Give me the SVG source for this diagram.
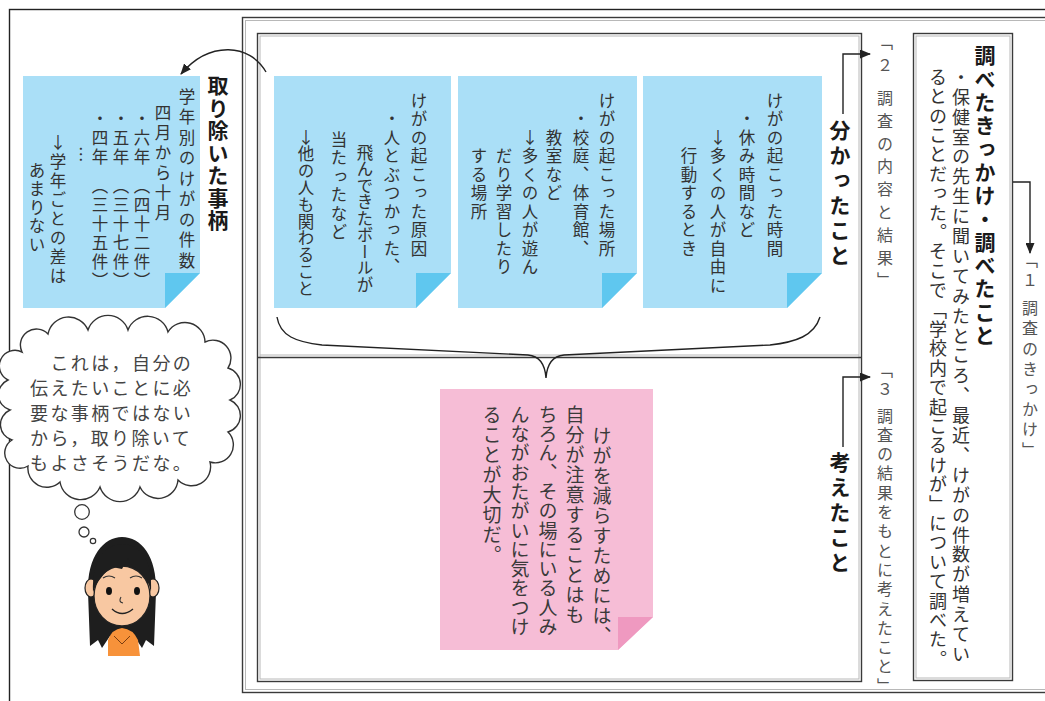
<svg xmlns="http://www.w3.org/2000/svg" width="1045" height="701" viewBox="0 0 1045 701">
  <style>
    .v { writing-mode: vertical-rl; font-family: "Noto Sans CJK JP", "Noto Sans CJK SC", sans-serif; }
    .h { font-family: "Noto Sans CJK JP", "Noto Sans CJK SC", sans-serif; }
    .up { text-orientation: upright; }
    .frame { fill: none; stroke: #3a3a3a; stroke-width: 1.4; }
    .frame2 { fill: none; stroke: #b8b8b8; stroke-width: 1; }
    .line { fill: none; stroke: #222; stroke-width: 1.4; }
    .blue { fill: #aadff7; }
    .bluefold { fill: #5fc7ef; }
    .pink { fill: #f6bdd6; }
    .pinkfold { fill: #ef99c0; }
    .nt { font-size: 16.5px; letter-spacing: 2px; fill: #333; }
    .pt { font-size: 19px; letter-spacing: 1px; fill: #3a3a3a; }
    .head { font-size: 21px; font-weight: bold; fill: #1a1a1a; }
    .lab { font-size: 16px; fill: #555; }
    .body { font-size: 18px; letter-spacing: 1.4px; fill: #333; }
    .say { font-size: 18px; letter-spacing: 2.4px; fill: #444; }
  </style>
  <defs>
    <marker id="arrow" markerUnits="userSpaceOnUse" markerWidth="11" markerHeight="9" refX="10" refY="4.5" orient="auto">
      <path d="M0,0 L11,4.5 L0,9 Z" fill="#222"/>
    </marker>
  </defs>

  <rect width="1045" height="701" fill="#fff"/>

  <!-- page frames -->
  <g id="frames">
    <rect class="line" x="9.5" y="9.5" width="1100" height="800"/>
    <rect class="frame" x="242.5" y="17.5" width="900" height="675"/>
    <rect class="frame2" x="245.5" y="20.5" width="900" height="669"/>
    <rect class="frame" x="257.5" y="33.5" width="604" height="648"/>
    <rect class="frame2" x="260" y="36" width="599" height="643"/>
    <line class="frame" x1="257.5" y1="357.5" x2="861.5" y2="357.5"/>
    <line class="frame2" x1="260" y1="355" x2="859" y2="355"/>
  </g>

  <!-- 1: trigger and findings box -->
  <g id="box-kikkake">
    <rect class="frame" x="913.5" y="33.5" width="99" height="647"/>
    <rect class="frame2" x="916" y="36" width="94" height="642"/>
    <text class="v head" x="985" y="45" style="letter-spacing:2.3px">調べたきっかけ・調べたこと</text>
    <text class="v body" x="961" y="68" style="letter-spacing:1.9px">・保健室の先生に聞いてみたところ、最近、けがの件数が増えてい</text>
    <text class="v body" x="938" y="68">るとのことだった。そこで「学校内で起こるけが」について調べた。</text>
  </g>
  <g id="label-1">
    <text class="v lab" x="1030" y="252" style="letter-spacing:4.2px">「１ 調査のきっかけ」</text>
  </g>
  <g id="label-2">
    <text class="v lab" x="885" y="34" style="letter-spacing:6.8px">「２ 調査の内容と結果」</text>
  </g>
  <g id="label-3">
    <text class="v lab" x="885" y="362" style="letter-spacing:3.3px">「３ 調査の結果をもとに考えたこと」</text>
  </g>
  <g id="title-wakatta">
    <text class="v head" x="840" y="120" style="letter-spacing:4px">分かったこと</text>
  </g>
  <g id="title-kangaeta">
    <text class="v head" x="840" y="452" style="letter-spacing:4px">考えたこと</text>
  </g>

  <!-- finding notes -->
  <g id="note-time">
    <polygon class="blue" points="643,76 822,76 822,273 787,308 643,308"/>
    <polygon class="bluefold" points="787,273 822,273 787,308"/>
    <text class="v nt" x="775" y="92">けがの起こった時間</text>
    <text class="v nt" x="747" y="110.5">・休み時間など</text>
    <text class="v nt" x="718" y="129"><tspan class="up">↓</tspan>多くの人が自由に</text>
    <text class="v nt" x="689" y="147.5">行動するとき</text>
  </g>
  <g id="note-place">
    <polygon class="blue" points="458,76 637,76 637,273 602,308 458,308"/>
    <polygon class="bluefold" points="602,273 637,273 602,308"/>
    <text class="v nt" x="607" y="92">けがの起こった場所</text>
    <text class="v nt" x="581" y="110.5">・校庭、体育館、</text>
    <text class="v nt" x="554" y="129">教室など</text>
    <text class="v nt" x="530" y="129"><tspan class="up">↓</tspan>多くの人が遊ん</text>
    <text class="v nt" x="504" y="147.5">だり学習したり</text>
    <text class="v nt" x="479" y="147.5">する場所</text>
  </g>
  <g id="note-cause">
    <polygon class="blue" points="274,76 451,76 451,273 416,308 274,308"/>
    <polygon class="bluefold" points="416,273 451,273 416,308"/>
    <text class="v nt" x="419" y="92">けがの起こった原因</text>
    <text class="v nt" x="392" y="110.5">・人とぶつかった、</text>
    <text class="v nt" x="365" y="144" style="letter-spacing:0px">飛んできたボールが</text>
    <text class="v nt" x="339" y="131">当たったなど</text>
    <text class="v nt" x="306" y="129" style="letter-spacing:0.3px"><tspan class="up">↓</tspan>他の人も関わること</text>
  </g>

  <!-- removed item -->
  <g id="note-removed">
    <polygon class="blue" points="23,76 200,76 200,273 165,308 23,308"/>
    <polygon class="bluefold" points="165,273 200,273 165,308"/>
    <text class="v nt" x="187" y="88" style="letter-spacing:4px">学年別のけがの件数</text>
    <text class="v nt" x="163" y="104" style="letter-spacing:3.5px">四月から十月</text>
    <text class="v nt" x="142" y="110" style="letter-spacing:2.5px">・六年　（四十二件）</text>
    <text class="v nt" x="121" y="110" style="letter-spacing:2.5px">・五年　（三十七件）</text>
    <text class="v nt" x="100" y="110" style="letter-spacing:2.5px">・四年　（三十五件）</text>
    <text class="v nt" x="81" y="146">…</text>
    <text class="v nt" x="58" y="134" style="letter-spacing:2.5px"><tspan class="up">↓</tspan>学年ごとの差は</text>
    <text class="v nt" x="37" y="162">あまりない</text>
  </g>
  <g id="title-removed">
    <text class="v head" x="218" y="75" style="letter-spacing:1.5px">取り除いた事柄</text>
  </g>

  <!-- conclusion note -->
  <g id="note-think">
    <polygon class="pink" points="440,389 653,389 653,617 618,650 440,650"/>
    <polygon class="pinkfold" points="618,617 653,617 618,650"/>
    <text class="v pt" x="602" y="426">けがを減らすためには、</text>
    <text class="v pt" x="575" y="405">自分が注意することはも</text>
    <text class="v pt" x="548" y="405" style="letter-spacing:0.3px">ちろん、その場にいる人み</text>
    <text class="v pt" x="520" y="405" style="letter-spacing:0.3px">んながおたがいに気をつけ</text>
    <text class="v pt" x="492" y="405">ることが大切だ。</text>
  </g>

  <!-- connectors -->
  <g id="connectors">
    <path class="line" d="M1013,182 H1030 V253" marker-end="url(#arrow)"/>
    <path class="line" d="M843,114 V54 H870" marker-end="url(#arrow)"/>
    <path class="line" d="M843,447 V377 H870" marker-end="url(#arrow)"/>
    <path class="line" d="M266,72 C250,44 210,40 181,74" marker-end="url(#arrow)"/>
    <path class="line" d="M277,317 C280,336 296,342 322,345 L528,355 C540,356 545,364 546,378 C547,364 552,356 564,355 L770,345 C796,342 814,336 820,317"/>
  </g>

  <!-- thought bubble -->
  <g id="bubble">
    <path d="M22,352 A16,16 0 0 1 48,334 A21,21 0 0 1 88,330 A21,21 0 0 1 128,330 A21,21 0 0 1 168,332 A20,20 0 0 1 205,342 A18,18 0 0 1 228,368 A17,17 0 0 1 230,400 A17,17 0 0 1 228,432 A18,18 0 0 1 210,462 A19,19 0 0 1 178,480 A20,20 0 0 1 140,487 A21,21 0 0 1 100,487 A21,21 0 0 1 60,482 A19,19 0 0 1 28,466 A15,15 0 0 1 12,440 A16,16 0 0 1 10,410 A16,16 0 0 1 8,380 A15,15 0 0 1 22,352 Z" fill="#fff" stroke="#333" stroke-width="1.4"/>
    <text class="h say" x="30" y="370">　これは，自分の</text>
    <text class="h say" x="30" y="395">伝えたいことに必</text>
    <text class="h say" x="30" y="420">要な事柄ではない</text>
    <text class="h say" x="30" y="445">から，取り除いて</text>
    <text class="h say" x="30" y="470">もよさそうだな。</text>
    <circle cx="82" cy="512" r="7.3" fill="#fff" stroke="#333" stroke-width="1.3"/>
    <circle cx="84" cy="532" r="5" fill="#fff" stroke="#333" stroke-width="1.3"/>
    <circle cx="93" cy="541" r="2.7" fill="#fff" stroke="#333" stroke-width="1.2"/>
  </g>

  <!-- girl -->
  <g id="girl">
    <path d="M90,646 L88,592 C87,556 104,537 122,537 C141,537 157,556 156,592 L154,646 L146,640 L142,648 L134,636 L110,636 L102,648 L98,640 Z" fill="#1e1e1e"/>
    <path d="M108,656 L108,640 Q112,629 122,628 Q133,629 138,640 L140,656 Z" fill="#f7923a"/>
    <path d="M114,636 L122,644 L130,636" fill="none" stroke="#7a3d10" stroke-width="1"/>
    <ellipse cx="91" cy="588" rx="6" ry="9" fill="#f8c8a2" stroke="#222" stroke-width="1.2"/>
    <ellipse cx="153" cy="588" rx="6" ry="9" fill="#f8c8a2" stroke="#222" stroke-width="1.2"/>
    <ellipse cx="122" cy="596" rx="28" ry="30" fill="#f8c8a2" stroke="#222" stroke-width="1.3"/>
    <path d="M93,592 C92,560 105,544 122,544 C140,544 153,560 151,592 L147,578 L140,570 L133,567 L128,558 L122,569 L112,567 L104,574 L97,583 Z" fill="#1e1e1e"/>
    <path d="M103,578 Q109,574 115,578" fill="none" stroke="#333" stroke-width="1.2"/>
    <path d="M130,578 Q136,574 142,578" fill="none" stroke="#333" stroke-width="1.2"/>
    <ellipse cx="109" cy="591" rx="3" ry="4" fill="#111"/>
    <ellipse cx="137" cy="591" rx="3" ry="4" fill="#111"/>
    <path d="M121,597 Q118,602 123,603" fill="none" stroke="#333" stroke-width="1.1"/>
    <path d="M112,609 Q122,618 133,609" fill="none" stroke="#222" stroke-width="1.4"/>
  </g>
</svg>
